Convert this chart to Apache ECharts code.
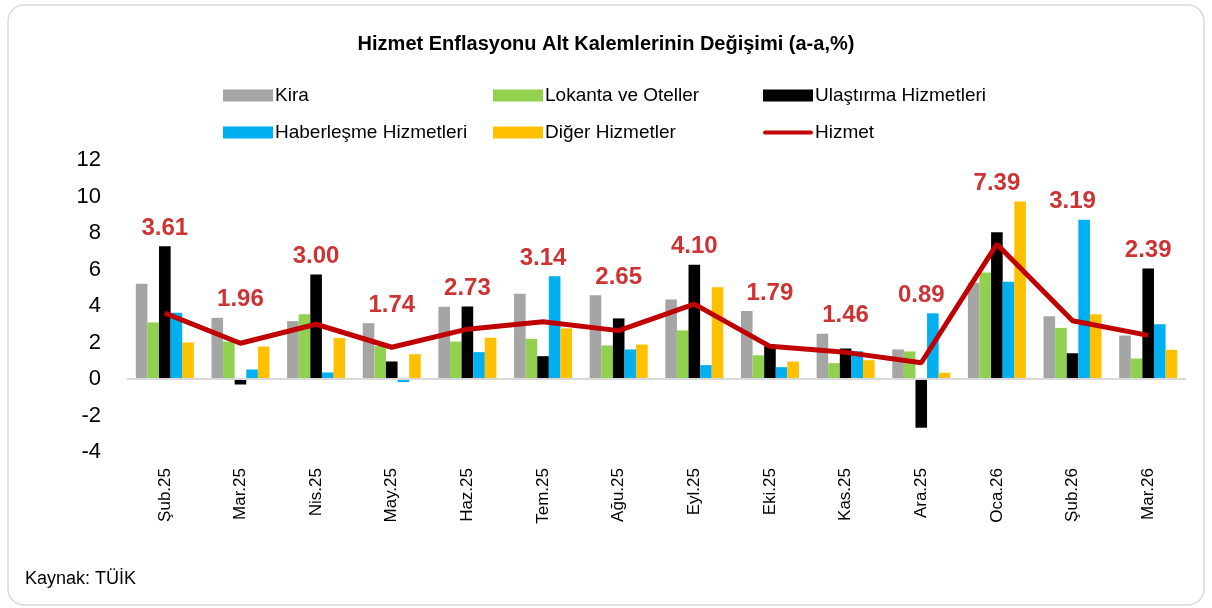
<!DOCTYPE html>
<html><head><meta charset="utf-8">
<script src="https://cdn.jsdelivr.net/npm/echarts@6/dist/echarts.min.js"></script>
<style>html,body{margin:0;padding:0;background:#fff}#c{width:1212px;height:608px}</style>
</head><body><div id="c"></div>
<script>
const categories = ['Şub.25','Mar.25','Nis.25','May.25','Haz.25','Tem.25','Ağu.25','Eyl.25','Eki.25','Kas.25','Ara.25','Oca.26','Şub.26','Mar.26'];
const kira      = [5.22, 3.35, 3.17, 3.06, 3.96, 4.67, 4.59, 4.36, 3.72, 2.48, 1.62, 5.27, 3.44, 2.38];
const lokanta   = [3.10, 2.05, 3.55, 1.80, 2.05, 2.20, 1.84, 2.66, 1.30, 0.87, 1.51, 5.84, 2.80, 1.12];
const ulastirma = [7.28, -0.30, 5.73, 0.96, 3.97, 1.25, 3.32, 6.26, 1.80, 1.67, -2.67, 8.04, 1.41, 6.05];
const haber     = [3.63, 0.52, 0.36, -0.17, 1.47, 5.63, 1.62, 0.76, 0.65, 1.52, 3.60, 5.33, 8.72, 3.00];
const diger     = [2.00, 1.78, 2.24, 1.36, 2.26, 2.77, 1.89, 5.03, 0.96, 1.03, 0.34, 9.73, 3.55, 1.60];
const hizmet    = [3.61, 1.96, 3.00, 1.74, 2.73, 3.14, 2.65, 4.10, 1.79, 1.46, 0.89, 7.39, 3.19, 2.39];
const yTicks    = [-4, -2, 0, 2, 4, 6, 8, 10, 12];

const F = '"Liberation Sans", Arial, sans-serif';
const chart = echarts.init(document.getElementById('c'));
const barNames = ['Kira','Lokanta ve Oteller','Ulaştırma Hizmetleri','Haberleşme Hizmetleri','Diğer Hizmetler'];
const barData = [kira, lokanta, ulastirma, haber, diger];
const barColors = ['#a5a5a5','#92d050','#000000','#00b0f0','#ffc000'];
const labelAnchor = categories.map((c,i)=>[i, Math.max(kira[i],lokanta[i],ulastirma[i],haber[i],diger[i])]);

const series = barNames.map((n,k)=>({
  name:n, type:'bar', data:barData[k], barWidth:11.6, barGap:'0%',
  itemStyle:{color:barColors[k]},
  markLine: k===0 ? {silent:true, symbol:'none', label:{show:false},
    lineStyle:{color:'#d9d9d9', width:2, type:'solid'}, data:[{yAxis:0}]} : undefined
}));
series.push({name:'Hizmet', type:'line', data:hizmet, z:5, symbol:'none',
  lineStyle:{color:'#c00000', width:5}, itemStyle:{color:'#c00000'}});
series.push({name:'lbl', type:'scatter', data:labelAnchor, symbolSize:0, z:6, silent:true,
  label:{show:true, position:'top', distance:6, color:'#c00000', fontFamily:F, fontWeight:'bold', fontSize:24,
    formatter:p=>hizmet[p.dataIndex].toFixed(2)}});

const lineIcon = 'path://M0,0 M2,4 L48,4 A2,2 0 0 1 48,8 L2,8 A2,2 0 0 1 2,4 Z M50,12';
const legendCommon = {orient:'vertical', top:81, itemWidth:50, itemHeight:12, itemGap:18,
  textStyle:{fontFamily:F, fontSize:19, color:'#000', padding:[0,0,0,-3]}};
chart.setOption({
  animation:false,
  title:{text:'Hizmet Enflasyonu Alt Kalemlerinin Değişimi (a-a,%)', left:'center', top:29,
    textStyle:{fontFamily:F, fontSize:20, fontWeight:'bold', color:'#000'}},
  legend:[
    Object.assign({left:218, data:[{name:'Kira',icon:'rect'},{name:'Haberleşme Hizmetleri',icon:'rect'}]}, legendCommon),
    Object.assign({left:488, data:[{name:'Lokanta ve Oteller',icon:'rect'},{name:'Diğer Hizmetler',icon:'rect'}]}, legendCommon),
    Object.assign({left:758, data:[{name:'Ulaştırma Hizmetleri',icon:'rect'},{name:'Hizmet',icon:lineIcon}]}, legendCommon)
  ],
  grid:{left:127, right:26, top:160, bottom:156},
  xAxis:{type:'category', data:categories, axisLine:{show:false, onZero:false}, axisTick:{show:false},
    axisLabel:{rotate:90, margin:16, fontFamily:F, fontSize:17, color:'#000'}},
  yAxis:{type:'value', min:yTicks[0], max:yTicks[yTicks.length-1], interval:2, splitLine:{show:false},
    axisLine:{show:false}, axisTick:{show:false},
    axisLabel:{margin:26, fontFamily:F, fontSize:22, color:'#000'}},
  series:series,
  graphic:[
    {type:'rect', shape:{x:8, y:5, width:1196, height:600, r:16}, style:{fill:'none', stroke:'#d9d9d9', lineWidth:1.5}, z:-1},
    {type:'text', left:25, top:570, style:{text:'Kaynak: TÜİK', fontFamily:F, fontSize:18, fill:'#000'}}
  ]
});
</script></body></html>
